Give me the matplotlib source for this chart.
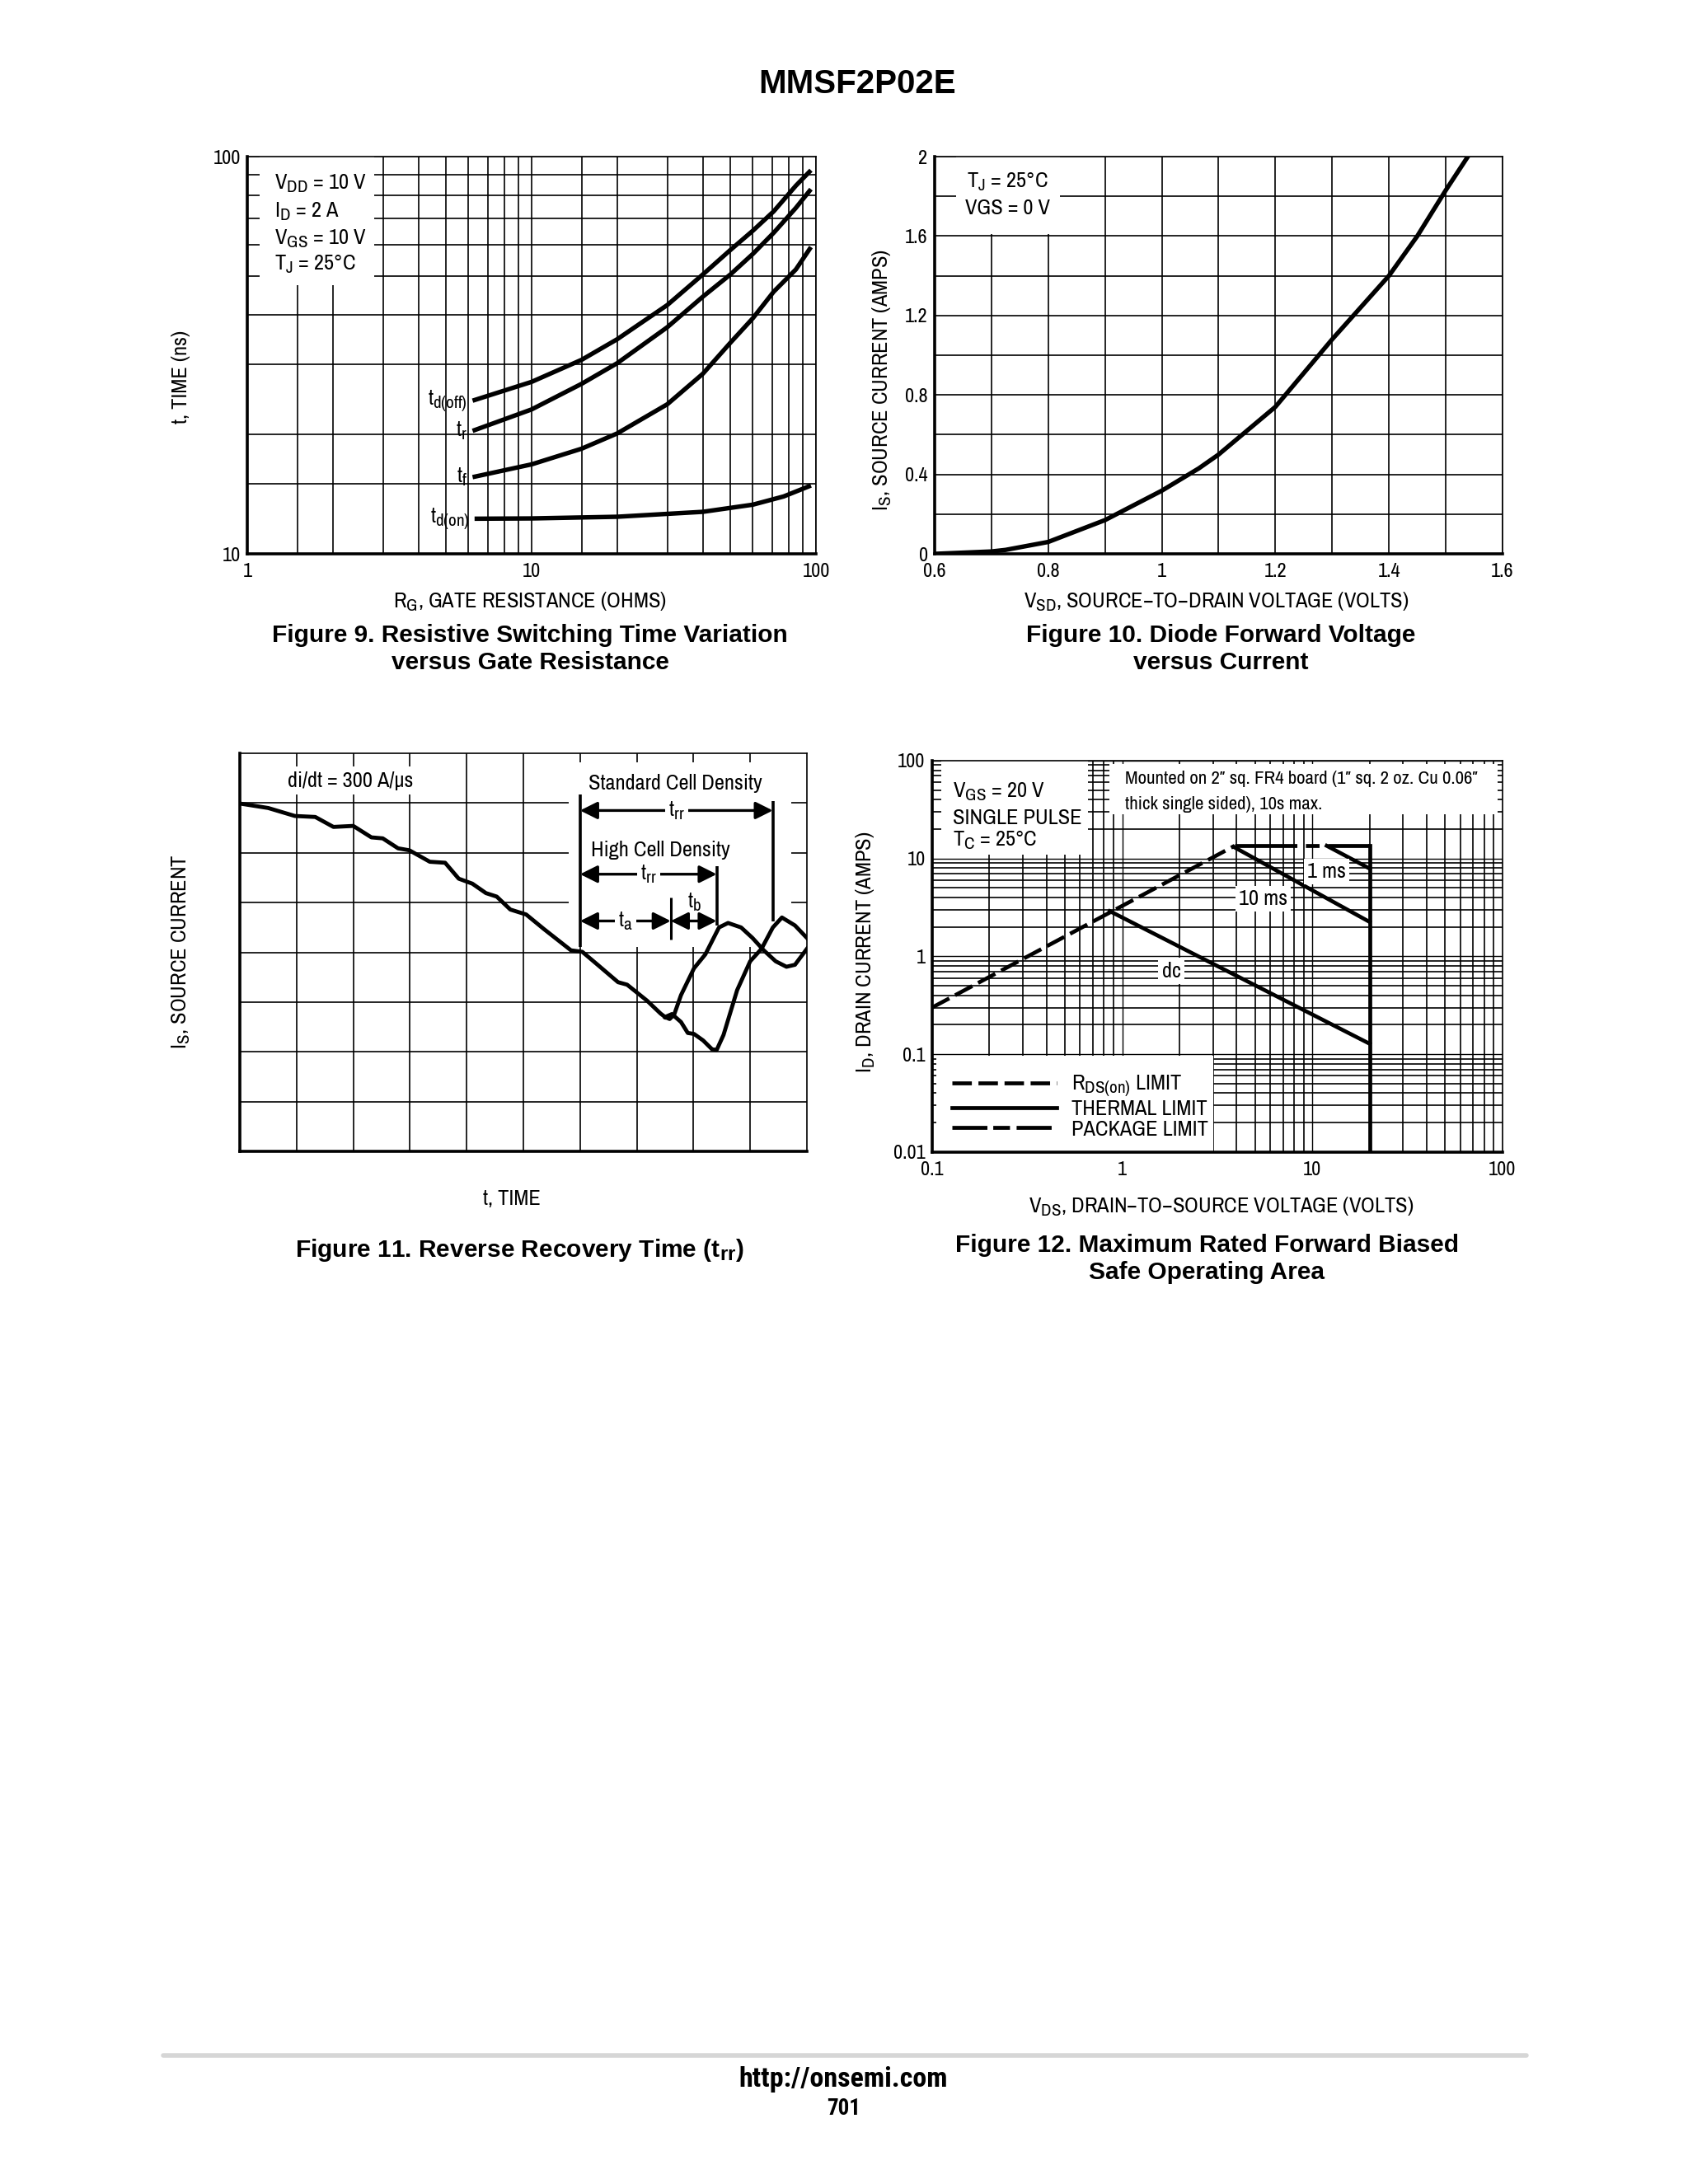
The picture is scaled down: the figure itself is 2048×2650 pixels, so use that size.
import matplotlib
matplotlib.use("Agg")
import matplotlib.pyplot as plt
from matplotlib import font_manager
from matplotlib.patches import Rectangle
from matplotlib.lines import Line2D
from matplotlib.ticker import NullFormatter, FixedLocator, LogLocator

# datasheet subscripts are only a little smaller than the base text
try:
    import matplotlib._mathtext as _mathtext
    _mathtext.SHRINK_FACTOR = 0.8
except (ImportError, AttributeError):
    pass


def weight_of(f):
    if isinstance(f.weight, int):
        return f.weight
    return font_manager.weight_dict.get(f.weight, 400)


# datasheet text is a narrow grotesque; take the first narrow family that is installed
NARROW_CHOICES = ['Archivo Narrow', 'Roboto Condensed', 'PT Sans Narrow']
installed = {f.name for f in font_manager.fontManager.ttflist}
bold_faces = {f.name for f in font_manager.fontManager.ttflist if weight_of(f) >= 700}
NARROW = next((n for n in NARROW_CHOICES if n in installed), 'Liberation Sans')
NARROW_BOLD = next((n for n in NARROW_CHOICES + ['PT Sans Narrow', 'Barlow Condensed',
                                                 'IBM Plex Sans Condensed', 'Fira Sans Condensed']
                    if n in bold_faces), 'Liberation Sans')
plt.rcParams['font.family'] = [NARROW, 'DejaVu Sans']
plt.rcParams['mathtext.fontset'] = 'custom'
plt.rcParams['mathtext.rm'] = NARROW
plt.rcParams['mathtext.default'] = 'regular'

# ---- Figure 9: switching time vs gate resistance ----
RG_UPPER = [6.2, 10, 15, 20, 30, 40, 50, 60, 71, 85, 96]
TD_OFF = [24.3, 27.1, 30.8, 34.7, 42.3, 50.5, 58.2, 65.1, 72.8, 84.5, 92.4]
T_RISE = [20.4, 23.1, 26.8, 30.2, 37.2, 44.4, 50.5, 56.9, 64.3, 74.3, 82.8]
T_FALL = [15.6, 16.8, 18.4, 20.1, 23.8, 28.4, 34.0, 39.2, 45.7, 52.0, 59.2]
RG_ON = [6.3, 10, 20, 40, 60, 77, 96]
TD_ON = [12.26, 12.28, 12.4, 12.76, 13.3, 13.95, 14.86]
FIG9_CONDITIONS = ['V$_{DD}$ = 10 V', 'I$_{D}$ = 2 A', 'V$_{GS}$ = 10 V', 'T$_{J}$ = 25°C']
FIG9_GRID_X = [1.5, 2, 3, 4, 5, 6, 7, 8, 9, 15, 20, 30, 40, 50, 60, 70, 80, 90]
FIG9_GRID_Y = [15, 20, 30, 40, 50, 60, 70, 80, 90]

# ---- Figure 10: diode forward voltage ----
VSD = [0.60, 0.70, 0.725, 0.80, 0.90, 1.00, 1.065, 1.10, 1.20, 1.30, 1.40, 1.45, 1.50, 1.539]
IS_AMPS = [0.0, 0.012, 0.02, 0.06, 0.17, 0.318, 0.43, 0.50, 0.74, 1.08, 1.40, 1.60, 1.83, 2.0]

# ---- Figure 11: reverse recovery (arbitrary grid units) ----
T_COMMON = [0, 0.5, 0.97, 1.33, 1.65, 2.0, 2.32, 2.52, 2.79, 2.99, 3.35, 3.62, 3.86, 4.1,
            4.34, 4.53, 4.77, 5.05, 5.36, 5.84, 6.04, 6.31, 6.67, 6.83, 7.18, 7.42, 7.5]
I_COMMON = [6.99, 6.90, 6.74, 6.72, 6.52, 6.54, 6.31, 6.29, 6.09, 6.05, 5.82, 5.80, 5.48, 5.38,
            5.19, 5.12, 4.86, 4.76, 4.47, 4.04, 4.01, 3.75, 3.40, 3.35, 3.03, 2.77, 2.70]
T_HIGH = [7.5, 7.58, 7.66, 7.78, 8.01, 8.21, 8.45, 8.61, 8.84, 9.04, 9.24, 9.45, 9.64, 9.79, 10.0]
I_HIGH = [2.70, 2.66, 2.75, 3.14, 3.68, 3.96, 4.50, 4.59, 4.50, 4.29, 4.04, 3.82, 3.71, 3.75, 4.07]
T_STD = [7.5, 7.62, 7.78, 7.9, 8.01, 8.17, 8.33, 8.41, 8.53, 8.77, 9.0, 9.2, 9.4, 9.56, 9.79, 10.0]
I_STD = [2.70, 2.76, 2.60, 2.38, 2.36, 2.23, 2.05, 2.04, 2.34, 3.24, 3.82, 4.07, 4.50, 4.70, 4.54, 4.29]
TRR_START = 6.0
TA_END = 7.6
TRR_HIGH_END = 8.41
TRR_STD_END = 9.4

# ---- Figure 12: safe operating area ----
RDS_V = [0.1, 3.9]
RDS_I = [0.3, 13.5]
PKG_V = [3.9, 20]
PKG_I = [13.5, 13.5]
DC_V = [0.86, 20]
DC_I = [2.9, 0.128]
MS10_V = [3.9, 20]
MS10_I = [13.0, 2.25]
MS1_V = [11.9, 20]
MS1_I = [13.5, 7.9]
VDSS_V = [20, 20]
VDSS_I = [0.01, 13.5]

GRID_LW = 1.2
CURVE_LW = 3.9
TICK_SIZE = 17.5
LABEL_SIZE = 19
CAPTION = dict(family='Liberation Sans', weight='bold', fontsize=21.5, ha='center', va='center',
               linespacing=1.2)


def frame(ax):
    ax.set_axisbelow(True)
    ax.grid(True, which='both', color='black', lw=GRID_LW)
    ax.tick_params(which='both', length=0, labelsize=TICK_SIZE)
    ax.tick_params(axis='x', pad=8)
    ax.tick_params(axis='y', pad=6)
    for side in ('left', 'bottom'):
        ax.spines[side].set_linewidth(2.6)
    for side in ('top', 'right'):
        ax.spines[side].set_linewidth(GRID_LW)


def blank(ax, x0, y0, x1, y1):
    ax.add_patch(Rectangle((x0, y0), x1 - x0, y1 - y0, facecolor='white',
                           edgecolor='none', zorder=1))


fig = plt.figure(figsize=(20.48, 26.5), dpi=100)
fig.text(0.508, 0.9615, 'MMSF2P02E', family='Liberation Sans', weight='bold',
         fontsize=29, ha='center', va='center')

# Figure 9
ax9 = fig.add_axes([0.1465, 0.7464, 0.3369, 0.1819])
ax9.set_xscale('log')
ax9.set_yscale('log')
ax9.set_xlim(1, 100)
ax9.set_ylim(10, 100)
ax9.set_xticks([1, 10, 100], ['1', '10', '100'])
ax9.set_yticks([10, 100], ['10', '100'])
ax9.xaxis.set_minor_locator(FixedLocator(FIG9_GRID_X))
ax9.yaxis.set_minor_locator(FixedLocator(FIG9_GRID_Y))
ax9.xaxis.set_minor_formatter(NullFormatter())
ax9.yaxis.set_minor_formatter(NullFormatter())
frame(ax9)
blank(ax9, 1.107, 47.5, 2.8, 100)
for rg, t in [(RG_UPPER, TD_OFF), (RG_UPPER, T_RISE), (RG_UPPER, T_FALL), (RG_ON, TD_ON)]:
    ax9.plot(rg, t, color='black', lw=CURVE_LW, solid_capstyle='butt', zorder=3)
for name, rg, t in [('t$_{d(off)}$', RG_UPPER, TD_OFF), ('t$_{r}$', RG_UPPER, T_RISE),
                    ('t$_{f}$', RG_UPPER, T_FALL), ('t$_{d(on)}$', RG_ON, TD_ON)]:
    ax9.text(rg[0] * 0.96, t[0], name, fontsize=LABEL_SIZE, ha='right', va='center', zorder=4)
for line, yv in zip(FIG9_CONDITIONS, [85.3, 72.8, 62.2, 53.6]):
    ax9.text(1.25, yv, line, fontsize=LABEL_SIZE, ha='left', va='center', zorder=4)
fig.text(0.314, 0.7245, 'R$_{G}$, GATE RESISTANCE (OHMS)', fontsize=LABEL_SIZE, ha='center', va='center')
fig.text(0.1074, 0.8275, 't, TIME (ns)', fontsize=LABEL_SIZE, rotation=90, ha='center', va='center')
fig.text(0.314, 0.7028, 'Figure 9. Resistive Switching Time Variation\nversus Gate Resistance', **CAPTION)

# Figure 10
ax10 = fig.add_axes([0.5537, 0.7464, 0.3364, 0.1819])
ax10.set_xlim(0.6, 1.6)
ax10.set_ylim(0, 2)
ax10.set_xticks([0.6, 0.8, 1.0, 1.2, 1.4, 1.6], ['0.6', '0.8', '1', '1.2', '1.4', '1.6'])
ax10.set_xticks([0.7, 0.9, 1.1, 1.3, 1.5], minor=True)
ax10.set_yticks([0, 0.4, 0.8, 1.2, 1.6, 2.0], ['0', '0.4', '0.8', '1.2', '1.6', '2'])
ax10.set_yticks([0.2, 0.6, 1.0, 1.4, 1.8], minor=True)
frame(ax10)
blank(ax10, 0.638, 1.61, 0.82, 2.0)
ax10.plot(VSD, IS_AMPS, color='black', lw=CURVE_LW, zorder=3)
ax10.text(0.728, 1.87, 'T$_{J}$ = 25°C', fontsize=LABEL_SIZE, ha='center', va='center', zorder=4)
ax10.text(0.728, 1.74, 'VGS = 0 V', fontsize=LABEL_SIZE, ha='center', va='center', zorder=4)
fig.text(0.7207, 0.7245, 'V$_{SD}$, SOURCE\u2212TO\u2212DRAIN VOLTAGE (VOLTS)', fontsize=LABEL_SIZE,
         ha='center', va='center')
fig.text(0.5225, 0.826, 'I$_{S}$, SOURCE CURRENT (AMPS)', fontsize=LABEL_SIZE, rotation=90,
         ha='center', va='center')
fig.text(0.7233, 0.7028, 'Figure 10. Diode Forward Voltage\nversus Current', **CAPTION)

# Figure 11
ax11 = fig.add_axes([0.1421, 0.4728, 0.3359, 0.1823])
ax11.set_xlim(0, 10)
ax11.set_ylim(0, 8)
ax11.set_xticks(range(1, 10), [''] * 9)
ax11.set_yticks(range(1, 8), [''] * 7)
frame(ax11)
blank(ax11, 5.8, 4.1, 9.72, 7.82)
ax11.plot(T_COMMON, I_COMMON, color='black', lw=3.5, zorder=3)
ax11.plot(T_HIGH, I_HIGH, color='black', lw=3.5, zorder=3)
ax11.plot(T_STD, I_STD, color='black', lw=3.5, zorder=3)
ax11.vlines(TRR_START, 4.11, 7.17, color='black', lw=2.6, zorder=3)
ax11.vlines(TRR_STD_END, 4.62, 7.04, color='black', lw=2.6, zorder=3)
ax11.vlines(TRR_HIGH_END, 4.54, 5.73, color='black', lw=2.6, zorder=3)
ax11.vlines(TA_END, 4.25, 5.1, color='black', lw=2.2, zorder=3)
arrow = dict(arrowstyle='<|-|>', lw=2.4, color='black', shrinkA=0, shrinkB=0, mutation_scale=32)
for x0, x1, yv, lab in [(TRR_START, TRR_STD_END, 6.85, 't$_{rr}$'),
                        (TRR_START, TRR_HIGH_END, 5.57, 't$_{rr}$'),
                        (TRR_START, TA_END, 4.63, 't$_{a}$'),
                        (TA_END, TRR_HIGH_END, 4.63, None)]:
    ax11.annotate('', xy=(x1, yv), xytext=(x0, yv), arrowprops=arrow, zorder=3)
    if lab:
        ax11.text((x0 + x1) / 2, yv, lab, fontsize=LABEL_SIZE, ha='center', va='center', zorder=4,
                  bbox=dict(facecolor='white', edgecolor='none', pad=3))
ax11.text(8.01, 5.0, 't$_{b}$', fontsize=LABEL_SIZE, ha='center', va='center', zorder=4)
ax11.text(0.85, 7.45, 'di/dt = 300 A/\u00b5s', fontsize=LABEL_SIZE, ha='left', va='center', zorder=4,
          bbox=dict(facecolor='white', edgecolor='none', pad=4))
ax11.text(6.15, 7.39, 'Standard Cell Density', fontsize=LABEL_SIZE, ha='left', va='center', zorder=4)
ax11.text(6.19, 6.05, 'High Cell Density', fontsize=LABEL_SIZE, ha='left', va='center', zorder=4)
fig.text(0.3033, 0.4513, 't, TIME', fontsize=LABEL_SIZE, ha='center', va='center')
fig.text(0.1074, 0.5642, 'I$_{S}$, SOURCE CURRENT', fontsize=LABEL_SIZE, rotation=90,
         ha='center', va='center')
fig.text(0.3076, 0.4275, 'Figure 11. Reverse Recovery Time (t$_{rr}$)', **CAPTION)

# Figure 12
ax12 = fig.add_axes([0.5522, 0.4725, 0.3379, 0.1792])
ax12.set_xscale('log')
ax12.set_yscale('log')
ax12.set_xlim(0.1, 100)
ax12.set_ylim(0.01, 100)
ax12.set_xticks([0.1, 1, 10, 100], ['0.1', '1', '10', '100'])
ax12.set_yticks([0.01, 0.1, 1, 10, 100], ['0.01', '0.1', '1', '10', '100'])
ax12.xaxis.set_minor_locator(LogLocator(base=10, subs=range(2, 10)))
ax12.yaxis.set_minor_locator(LogLocator(base=10, subs=range(2, 10)))
ax12.xaxis.set_minor_formatter(NullFormatter())
ax12.yaxis.set_minor_formatter(NullFormatter())
frame(ax12)
for gl in ax12.get_xgridlines() + ax12.get_ygridlines():
    gl.set_linewidth(1.0)
blank(ax12, 0.1115, 10.9, 0.66, 100)
blank(ax12, 0.86, 28.3, 94.6, 91.8)
blank(ax12, 0.105, 0.0101, 3.0, 0.097)
rds, = ax12.plot(RDS_V, RDS_I, color='black', lw=3.4, dashes=(5, 1.7), zorder=3)
ax12.plot(PKG_V, PKG_I, color='black', lw=3.4, dashes=(16, 2.2, 3.5, 2.2), zorder=3)
thermal, = ax12.plot(DC_V, DC_I, color='black', lw=3.4, zorder=3)
ax12.plot(MS10_V, MS10_I, color='black', lw=3.4, zorder=3)
ax12.plot(MS1_V, MS1_I, color='black', lw=3.4, zorder=3)
ax12.plot(VDSS_V, VDSS_I, color='black', lw=3.4, zorder=3)
for lab, xv, yv in [('1 ms', 11.9, 7.4), ('10 ms', 5.5, 3.9), ('dc', 1.81, 0.71)]:
    ax12.text(xv, yv, lab, fontsize=LABEL_SIZE, ha='center', va='center', zorder=4,
              bbox=dict(facecolor='white', edgecolor='none', pad=3))
for line, yv in zip(['V$_{GS}$ = 20 V', 'SINGLE PULSE', 'T$_{C}$ = 25°C'], [48.4, 26.0, 15.3]):
    ax12.text(0.129, yv, line, fontsize=LABEL_SIZE, ha='left', va='center', zorder=4)
ax12.text(1.03, 65.3, 'Mounted on 2\u2033 sq. FR4 board (1\u2033 sq. 2 oz. Cu 0.06\u2033', fontsize=16.5,
          ha='left', va='center', zorder=4)
ax12.text(1.03, 35.9, 'thick single sided), 10s max.', fontsize=16.5, ha='left', va='center', zorder=4)
pkg_key = Line2D([], [], color='black', lw=3.4, dashes=(9, 1.5, 4.3, 1.7))
ax12.legend([rds, thermal, pkg_key], ['R$_{DS(on)}$ LIMIT', 'THERMAL LIMIT', 'PACKAGE LIMIT'],
            loc='lower left', bbox_to_anchor=(0.02, 0.012), frameon=False, fontsize=LABEL_SIZE,
            handlelength=4.8, handletextpad=0.7, labelspacing=0.05, borderaxespad=0)
fig.text(0.7233, 0.4475, 'V$_{DS}$, DRAIN\u2212TO\u2212SOURCE VOLTAGE (VOLTS)', fontsize=LABEL_SIZE,
         ha='center', va='center')
fig.text(0.5127, 0.5642, 'I$_{D}$, DRAIN CURRENT (AMPS)', fontsize=LABEL_SIZE, rotation=90,
         ha='center', va='center')
fig.text(0.7150, 0.4236, 'Figure 12. Maximum Rated Forward Biased\nSafe Operating Area', **CAPTION)

# page footer
fig.add_artist(Line2D([0.0967, 0.9043], [0.0589, 0.0589], transform=fig.transFigure,
                      color='#d6d6d6', lw=4, solid_capstyle='round'))
fig.text(0.4995, 0.0479, 'http://onsemi.com', family=NARROW_BOLD, weight='bold', fontsize=24.5,
         ha='center', va='center')
fig.text(0.5, 0.0347, '701', family=NARROW_BOLD, weight='bold', fontsize=19.5, ha='center', va='center')

fig.savefig('out.png', dpi=100, facecolor='white')
